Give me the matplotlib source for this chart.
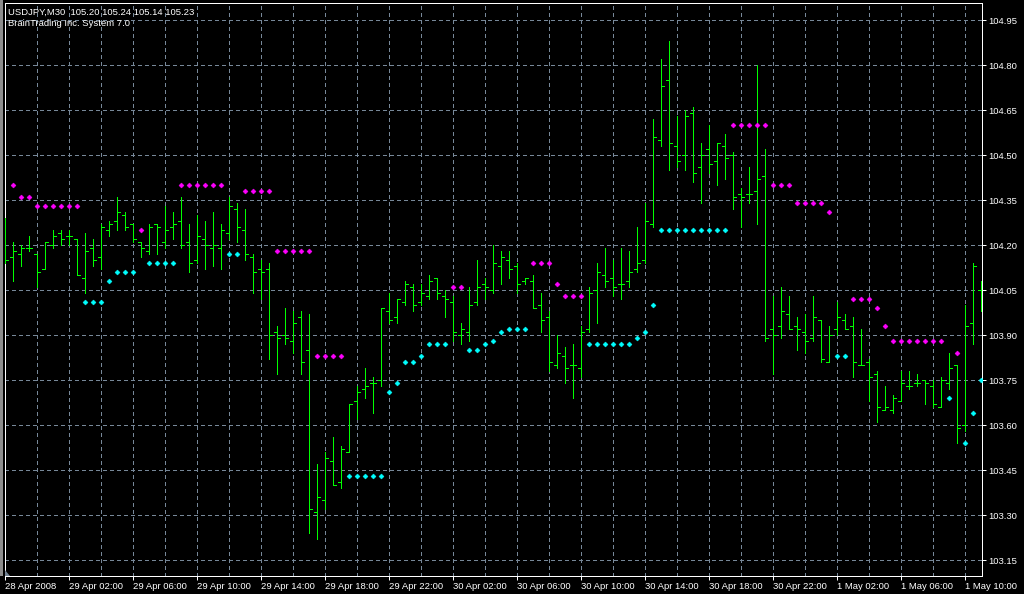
import numpy as np
import matplotlib
matplotlib.use("Agg")
import matplotlib.pyplot as plt
from matplotlib.patches import Polygon, Rectangle

plt.rcParams['font.family'] = ['Liberation Sans', 'DejaVu Sans']

# USDJPY M30 bars, one every 30 minutes starting 28 Apr 2008 22:00
opens = [104.18, 104.16, 104.17, 104.19, 104.17, 104.12, 104.20, 104.24, 104.23, 104.22,
         104.09, 104.19, 104.16, 104.25, 104.28, 104.30, 104.27, 104.21, 104.18, 104.27,
         104.21, 104.26, 104.28, 104.21, 104.15, 104.22, 104.19, 104.19, 104.24, 104.32,
         104.25, 104.16, 104.12, 104.12, 103.91, 103.90, 103.88, 103.96, 103.85, 103.31,
         103.35, 103.48, 103.41, 103.51, 103.68, 103.72, 103.74, 103.75, 103.98, 103.96,
         104.01, 104.06, 104.01, 104.03, 104.09, 104.03, 104.01, 103.90, 103.91, 104.01,
         104.07, 104.05, 104.13, 104.15, 104.13, 104.08, 104.08, 104.00, 103.96, 103.80,
         103.83, 103.80, 103.79, 103.92, 104.05, 104.10, 104.09, 104.07, 104.08, 104.12,
         104.15, 104.27, 104.55, 104.75, 104.53, 104.50, 104.64, 104.46, 104.52, 104.48,
         104.53, 104.50, 104.37, 104.37, 104.38, 104.43, 103.92, 103.93, 103.97, 103.93,
         103.91, 103.89, 103.95, 103.81, 103.92, 103.95, 103.93, 103.80, 103.81, 103.77,
         103.65, 103.65, 103.68, 103.73, 103.74, 103.75, 103.73, 103.66, 103.74, 103.80,
         103.60, 103.94, 104.05]
highs = [104.29, 104.21, 104.20, 104.23, 104.17, 104.21, 104.25, 104.25, 104.25, 104.22,
         104.24, 104.22, 104.27, 104.28, 104.36, 104.31, 104.27, 104.21, 104.27, 104.27,
         104.33, 104.31, 104.36, 104.27, 104.30, 104.28, 104.31, 104.27, 104.36, 104.34,
         104.32, 104.17, 104.15, 104.14, 103.93, 103.99, 103.98, 103.98, 103.97, 103.47,
         103.51, 103.56, 103.53, 103.67, 103.73, 103.79, 103.76, 103.99, 104.04, 104.02,
         104.08, 104.07, 104.07, 104.10, 104.09, 104.05, 104.03, 103.94, 104.06, 104.15,
         104.09, 104.20, 104.18, 104.18, 104.14, 104.09, 104.10, 104.04, 103.98, 103.90,
         103.86, 103.87, 103.93, 104.06, 104.14, 104.19, 104.15, 104.19, 104.18, 104.26,
         104.34, 104.62, 104.82, 104.88, 104.63, 104.65, 104.66, 104.54, 104.60, 104.54,
         104.57, 104.51, 104.39, 104.46, 104.80, 104.52, 104.03, 104.06, 104.03, 103.96,
         103.97, 104.03, 103.95, 103.93, 104.01, 103.97, 103.96, 103.92, 103.82, 103.78,
         103.73, 103.70, 103.78, 103.78, 103.77, 103.75, 103.75, 103.76, 103.84, 103.80,
         104.00, 104.14, 104.08]
lows = [104.14, 104.08, 104.13, 104.18, 104.06, 104.12, 104.19, 104.20, 104.20, 104.10,
        104.04, 104.13, 104.12, 104.23, 104.25, 104.25, 104.21, 104.16, 104.17, 104.17,
        104.19, 104.22, 104.19, 104.11, 104.14, 104.12, 104.13, 104.12, 104.22, 104.21,
        104.15, 104.04, 104.02, 103.82, 103.77, 103.87, 103.84, 103.77, 103.24, 103.22,
        103.32, 103.40, 103.39, 103.51, 103.62, 103.69, 103.64, 103.73, 103.94, 103.94,
        104.00, 103.98, 104.00, 104.02, 104.02, 103.96, 103.88, 103.87, 103.88, 104.00,
        104.02, 104.04, 104.07, 104.09, 104.04, 104.07, 103.99, 103.91, 103.78, 103.79,
        103.74, 103.69, 103.76, 103.91, 103.94, 104.06, 104.03, 104.02, 104.06, 104.11,
        104.14, 104.26, 104.53, 104.45, 104.46, 104.45, 104.41, 104.34, 104.44, 104.40,
        104.42, 104.32, 104.26, 104.34, 104.27, 103.88, 103.77, 103.89, 103.92, 103.85,
        103.84, 103.88, 103.81, 103.81, 103.90, 103.92, 103.76, 103.80, 103.68, 103.61,
        103.65, 103.64, 103.68, 103.72, 103.73, 103.67, 103.66, 103.66, 103.72, 103.54,
        103.58, 103.87, 103.98]
closes = [104.15, 104.18, 104.19, 104.19, 104.11, 104.21, 104.23, 104.22, 104.23, 104.10,
          104.18, 104.15, 104.26, 104.27, 104.31, 104.26, 104.22, 104.19, 104.26, 104.26,
          104.25, 104.27, 104.20, 104.14, 104.23, 104.20, 104.20, 104.25, 104.33, 104.26,
          104.17, 104.11, 104.11, 103.90, 103.89, 103.89, 103.94, 103.81, 103.32, 103.36,
          103.49, 103.40, 103.52, 103.67, 103.71, 103.73, 103.74, 103.99, 103.95, 104.02,
          104.07, 104.00, 104.04, 104.08, 104.04, 104.02, 103.91, 103.92, 104.00, 104.06,
          104.06, 104.14, 104.16, 104.12, 104.07, 104.09, 103.99, 103.95, 103.81, 103.84,
          103.79, 103.80, 103.91, 104.04, 104.11, 104.08, 104.06, 104.07, 104.11, 104.14,
          104.28, 104.56, 104.73, 104.54, 104.48, 104.63, 104.44, 104.50, 104.47, 104.54,
          104.49, 104.36, 104.36, 104.37, 104.42, 103.89, 103.90, 103.98, 103.92, 103.92,
          103.88, 103.96, 103.82, 103.90, 103.96, 103.92, 103.81, 103.80, 103.76, 103.66,
          103.66, 103.69, 103.74, 103.73, 103.74, 103.74, 103.67, 103.75, 103.79, 103.59,
          103.93, 104.13, 104.05]

# indicator dots: magenta above price (short), aqua below price (long)
dn_idx = [1, 2, 3, 4, 5, 6, 7, 8, 9, 17, 22, 23, 24, 25, 26, 27, 30, 31, 32, 33,
          34, 35, 36, 37, 38, 39, 40, 41, 42, 56, 57, 66, 67, 68, 69, 70, 71, 72,
          91, 92, 93, 94, 95, 96, 97, 98, 99, 100, 101, 102, 103, 106, 107, 108,
          109, 110, 111, 112, 113, 114, 115, 116, 117, 119]
dn_val = [104.40, 104.36, 104.36, 104.33, 104.33, 104.33, 104.33, 104.33, 104.33, 104.25,
          104.40, 104.40, 104.40, 104.40, 104.40, 104.40, 104.38, 104.38, 104.38, 104.38,
          104.18, 104.18, 104.18, 104.18, 104.18, 103.83, 103.83, 103.83, 103.83, 104.06, 104.06,
          104.14, 104.14, 104.14, 104.07, 104.03, 104.03, 104.03,
          104.60, 104.60, 104.60, 104.60, 104.60, 104.40, 104.40, 104.40, 104.34, 104.34, 104.34,
          104.34, 104.31, 104.02, 104.02, 104.02, 103.99, 103.93, 103.88, 103.88, 103.88,
          103.88, 103.88, 103.88, 103.88, 103.84]
up_idx = [10, 11, 12, 13, 14, 15, 16, 18, 19, 20, 21, 28, 29, 43, 44, 45, 46, 47, 48,
          49, 50, 51, 52, 53, 54, 55, 58, 59, 60, 61, 62, 63, 64, 65, 73, 74, 75, 76,
          77, 78, 79, 80, 81, 82, 83, 84, 85, 86, 87, 88, 89, 90, 104, 105, 118, 120,
          121, 122]
up_val = [104.01, 104.01, 104.01, 104.08, 104.11, 104.11, 104.11, 104.14, 104.14, 104.14,
          104.14, 104.17, 104.17, 103.43, 103.43, 103.43, 103.43, 103.43, 103.71,
          103.74, 103.81, 103.81, 103.83, 103.87, 103.87, 103.87, 103.85, 103.85, 103.87,
          103.88, 103.91, 103.92, 103.92, 103.92, 103.87, 103.87, 103.87, 103.87,
          103.87, 103.87, 103.89, 103.91, 104.00, 104.25, 104.25, 104.25, 104.25, 104.25,
          104.25, 104.25, 104.25, 104.25, 103.83, 103.83, 103.69, 103.54, 103.64, 103.75]

price_ticks = [103.15, 103.30, 103.45, 103.60, 103.75, 103.90, 104.05, 104.20,
               104.35, 104.50, 104.65, 104.80, 104.95]
time_idx = [0, 8, 16, 24, 32, 40, 48, 56, 64, 72, 80, 88, 96, 104, 112, 120]
time_labels = ["28 Apr 2008", "29 Apr 02:00", "29 Apr 06:00", "29 Apr 10:00",
               "29 Apr 14:00", "29 Apr 18:00", "29 Apr 22:00", "30 Apr 02:00",
               "30 Apr 06:00", "30 Apr 10:00", "30 Apr 14:00", "30 Apr 18:00",
               "30 Apr 22:00", "1 May 02:00", "1 May 06:00", "1 May 10:00"]

W, H = 1024, 594
fig = plt.figure(figsize=(W / 100, H / 100), dpi=100, facecolor='black')
ax = fig.add_axes([4.5 / W, 18 / H, (982 - 4.5) / W, (576 - 3) / H])
ax.set_facecolor('black')

px = 0.72  # one pixel in points
green = '#00ff00'
grid_c = '#778899'

x = np.arange(len(opens))
# grid behind bars
for p in price_ticks:
    ax.axhline(p, color=grid_c, lw=px, ls=(0, (4, 3)), zorder=1, antialiased=False)
for i in range(4, len(opens), 4):
    ax.axvline(i, color=grid_c, lw=px, ls=(0, (4, 3)), zorder=1, antialiased=False)

tw = 0.375
ax.vlines(x, lows, highs, color=green, lw=px, zorder=3, antialiased=False)
ax.hlines(opens, x - tw, x, color=green, lw=px, zorder=3, antialiased=False)
ax.hlines(closes, x, x + tw, color=green, lw=px, zorder=3, antialiased=False)

ax.plot(dn_idx, dn_val, ls='none', marker='D', ms=2.5, mew=0.4,
        color='#ff00ff', mec='#ff00ff', zorder=4)
ax.plot(up_idx, up_val, ls='none', marker='D', ms=2.5, mew=0.4,
        color='#00ffff', mec='#00ffff', zorder=4)

ax.set_xlim(-0.06, 122.12)
ax.set_ylim(103.0967, 105.0067)

for s in ax.spines.values():
    s.set_color('white')
    s.set_linewidth(px)

ax.yaxis.tick_right()
ax.set_yticks(price_ticks)
ax.set_yticklabels([f"{p:.2f}" for p in price_ticks])
ax.set_xticks(time_idx)
ax.set_xticklabels(time_labels)
ax.tick_params(axis='y', colors='white', length=3, width=px, pad=1.5, labelsize=6.8)
ax.tick_params(axis='x', colors='white', length=3, width=px, pad=1.5, labelsize=6.8)
for lab in ax.get_xticklabels():
    lab.set_ha('left')

ax.text(0.004, 1 - 12 / 573, "USDJPY,M30  105.20 105.24 105.14 105.23",
        transform=ax.transAxes, color='white', fontsize=6.8, va='baseline', ha='left')
ax.text(0.004, 1 - 23 / 573, "BrainTrading Inc. System 7.0",
        transform=ax.transAxes, color='white', fontsize=6.8, va='baseline', ha='left')

# window border and shift marker
fig.patches.append(Rectangle((0, 18 / H), 2.5 / W, 1 - 18 / H, transform=fig.transFigure,
                             facecolor='#8c8c8c', edgecolor='none'))
fig.patches.append(Polygon([[5 / W, 18 / H], [5 / W, 24 / H], [10 / W, 18 / H]],
                           closed=True, transform=fig.transFigure,
                           facecolor='#708090', edgecolor='none'))

fig.savefig('out.png', dpi=100, facecolor='black')
